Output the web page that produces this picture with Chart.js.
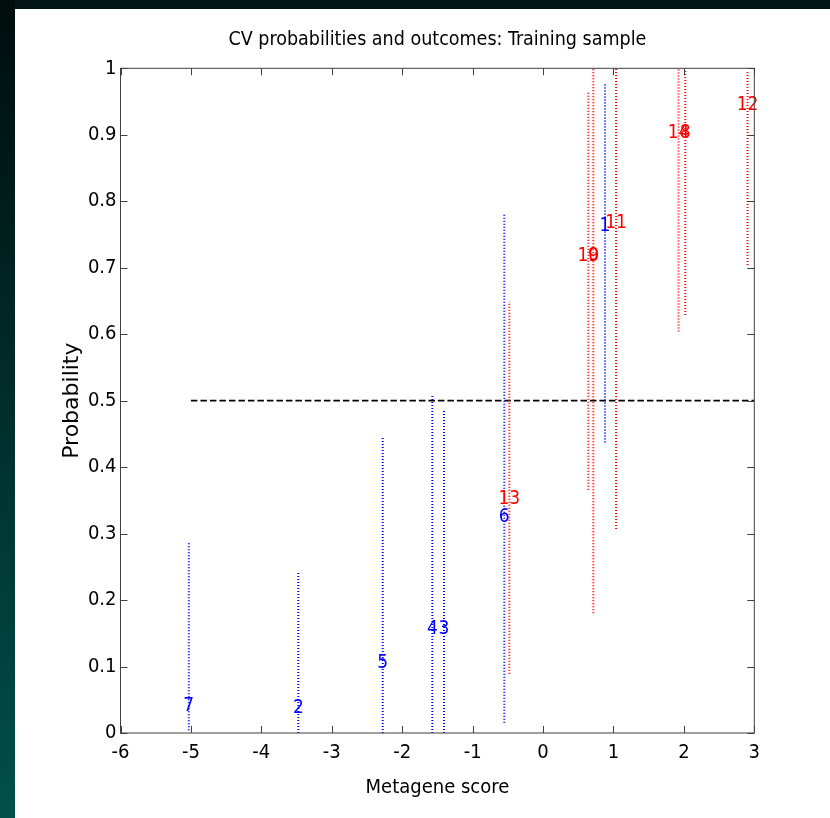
<!DOCTYPE html>
<html><head><meta charset="utf-8">
<script src="https://cdn.jsdelivr.net/npm/chart.js@4.4.1/dist/chart.umd.min.js"></script>
<style>
html,body{margin:0;padding:0;background:#021414;}
body{width:830px;height:818px;overflow:hidden;position:relative;}
#bgleft{position:absolute;left:0;top:0;width:15px;height:818px;background:linear-gradient(#000c0c,#024f4a);}
#panel{position:absolute;left:15px;top:9px;width:815px;height:809px;background:#fff;}
#c{position:absolute;left:0;top:0;width:830px;height:818px;}
</style></head>
<body>
<div id="bgleft"></div><div id="panel"></div>
<canvas id="c" width="830" height="818"></canvas>
<script>
// ---- data ----
const sampleIds     = [7, 2, 5, 4, 3, 6, 13, 10, 9, 1, 11, 14, 8, 12];
const metageneScore = [-5.03, -3.475, -2.276, -1.572, -1.406, -0.55, -0.479, 0.643, 0.714, 0.880, 1.037, 1.924, 2.02, 2.904];
const outcome       = [0, 0, 0, 0, 0, 0, 1, 1, 1, 0, 1, 1, 1, 1];
const cvProbability = [0.041, 0.037, 0.105, 0.156, 0.156, 0.325, 0.352, 0.717, 0.717, 0.762, 0.767, 0.902, 0.902, 0.945];
const lowerBound    = [0.004, 0, 0, 0, 0, 0.0155, 0.089, 0.366, 0.18, 0.437, 0.307, 0.604, 0.629, 0.704];
const upperBound    = [0.286, 0.241, 0.445, 0.507, 0.486, 0.780, 0.649, 0.966, 1.0, 0.976, 1.0, 1.0, 1.0, 0.997];
const xTicks        = [-6, -5, -4, -3, -2, -1, 0, 1, 2, 3];
const yTicks        = [0, 0.1, 0.2, 0.3, 0.4, 0.5, 0.6, 0.7, 0.8, 0.9, 1];
const threshold     = [{x: -5, y: 0.5}, {x: 3, y: 0.5}];

const NARROW = '"Liberation Sans Narrow", "DejaVu Sans Condensed", "Liberation Sans", sans-serif';
const outcomeColor = o => o ? '#ff0000' : '#0000ff';

const intervalSets = sampleIds.map((id, i) => ({
  label: 'sample ' + id,
  data: [{x: metageneScore[i], y: lowerBound[i]}, {x: metageneScore[i], y: upperBound[i]}],
  showLine: true, pointRadius: 0, borderWidth: 2, borderDash: [1, 2],
  borderColor: outcomeColor(outcome[i])
}));

const labelSet = {
  label: 'ids',
  data: sampleIds.map((id, i) => ({x: metageneScore[i], y: cvProbability[i]})),
  pointRadius: 0, showLine: false
};

const thresholdSet = {
  label: 'threshold', data: threshold, showLine: true, pointRadius: 0,
  borderWidth: 1.6, borderDash: [6.5, 3], borderColor: '#000'
};

const idLabels = {
  id: 'idLabels',
  afterDatasetsDraw(chart) {
    const meta = chart.getDatasetMeta(chart.data.datasets.length - 1);
    const ctx = chart.ctx;
    ctx.save();
    ctx.font = '19px ' + NARROW;
    ctx.textAlign = 'center';
    ctx.textBaseline = 'middle';
    meta.data.forEach((pt, i) => {
      ctx.fillStyle = outcomeColor(outcome[i]);
      ctx.fillText(String(sampleIds[i]), pt.x, pt.y);
    });
    ctx.restore();
  }
};

const frame = {
  id: 'frame',
  afterDraw(chart) {
    const {ctx, chartArea: a, scales: {x, y}} = chart;
    ctx.save();
    ctx.strokeStyle = '#404040';
    ctx.lineWidth = 1;
    ctx.strokeRect(a.left, a.top, a.right - a.left, a.bottom - a.top);
    const L = 7;
    ctx.beginPath();
    x.ticks.forEach(t => {
      const p = Math.round(x.getPixelForValue(t.value)) + 0.5;
      ctx.moveTo(p, a.bottom); ctx.lineTo(p, a.bottom - L);
      ctx.moveTo(p, a.top); ctx.lineTo(p, a.top + L);
    });
    y.ticks.forEach(t => {
      const p = Math.round(y.getPixelForValue(t.value)) + 0.5;
      ctx.moveTo(a.left, p); ctx.lineTo(a.left + L, p);
      ctx.moveTo(a.right, p); ctx.lineTo(a.right - L, p);
    });
    ctx.stroke();
    ctx.restore();
  }
};

new Chart(document.getElementById('c'), {
  type: 'scatter',
  data: {datasets: [...intervalSets, thresholdSet, labelSet]},
  options: {
    responsive: false, animation: false,
    layout: {padding: {left: 15, top: 9, right: 75.7, bottom: 0}},
    plugins: {
      legend: {display: false}, tooltip: {enabled: false},
      title: {
        display: true, text: 'CV probabilities and outcomes: Training sample',
        fullSize: false, color: '#000',
        font: {family: NARROW, size: 19.5, weight: 'normal', lineHeight: 1.2},
        padding: {top: 19.6, bottom: 16.3}
      }
    },
    scales: {
      x: {
        type: 'linear', min: -6, max: 3,
        afterBuildTicks: s => { s.ticks = xTicks.map(v => ({value: v})); },
        afterFit: s => { s.height = 85; },
        grid: {display: false, drawTicks: false}, border: {display: false},
        ticks: {color: '#000', padding: 8, font: {family: NARROW, size: 20}, callback: v => String(v)},
        title: {display: true, text: 'Metagene score', color: '#000',
                font: {family: NARROW, size: 20, lineHeight: 1.2}, padding: {top: 0, bottom: 18}}
      },
      y: {
        type: 'linear', min: 0, max: 1,
        afterBuildTicks: s => { s.ticks = yTicks.map(v => ({value: v})); },
        afterFit: s => { s.width = 105.5; },
        grid: {display: false, drawTicks: false}, border: {display: false},
        ticks: {color: '#000', padding: 4, font: {family: NARROW, size: 20},
                callback: v => String(Number(v.toFixed(1)))},
        title: {display: true, text: 'Probability', color: '#000',
                font: {family: '"DejaVu Sans", sans-serif', size: 22, lineHeight: 1.2}, padding: {top: 44, bottom: 0}}
      }
    }
  },
  plugins: [idLabels, frame]
});
</script>
</body></html>
